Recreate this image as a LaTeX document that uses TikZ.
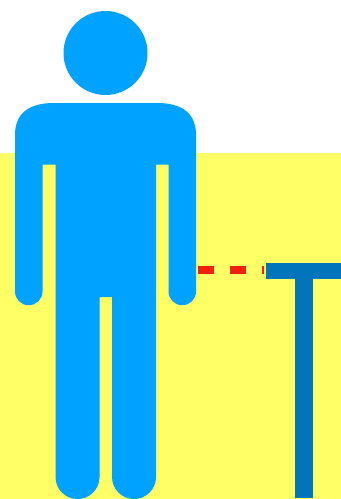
\documentclass[tikz,border=0pt]{standalone}
\usetikzlibrary{calc, positioning}
\definecolor{wallyellow}{HTML}{FFFF66}
\definecolor{figureblue}{HTML}{00A2FF}
\definecolor{standblue}{HTML}{0075BB}
\definecolor{gapred}{HTML}{F0200C}
\begin{document}
\begin{tikzpicture}[x=0.03cm, y=-0.03cm]
\def\rHand{13.75}
\def\rFoot{22}
\coordinate (NW) at (0,0);
\coordinate (SE) at (341,499);
\coordinate (Gap) at (198,269.5);
\coordinate (Bar) at (264.3,269.5);
\useasboundingbox (NW) rectangle (SE);

\fill[wallyellow] (0,153) rectangle (SE);

% head
\fill[figureblue] (105.5,53) circle [radius=42];
% body, clockwise from the left hand
\fill[figureblue] (15,291.5) -- (15,135)
  .. controls (15,114) and (28,103) .. (54,103) -- (157,103)
  .. controls (183,103) and (196,114) .. (196,135) -- (196,291.5)
  arc[start angle=0, end angle=180, radius=\rHand] -- (168.5,164.5)
  -- (156,164.5) -- (156,477)
  arc[start angle=0, end angle=180, radius=\rFoot] -- (112,297)
  -- (99.5,297) -- (99.5,477)
  arc[start angle=0, end angle=180, radius=\rFoot] -- (55.5,164.5)
  -- (42.5,164.5) -- (42.5,291.5)
  arc[start angle=0, end angle=180, radius=\rHand] -- cycle;

\draw[gapred, line width=0.24cm, dash pattern=on 0.48cm off 0.48cm] (Gap) -- (Bar);

% stand
\fill[standblue] (266,263) rectangle (341,279);
\fill[standblue] (295,279) rectangle (312.5,498);
\end{tikzpicture}
\end{document}
